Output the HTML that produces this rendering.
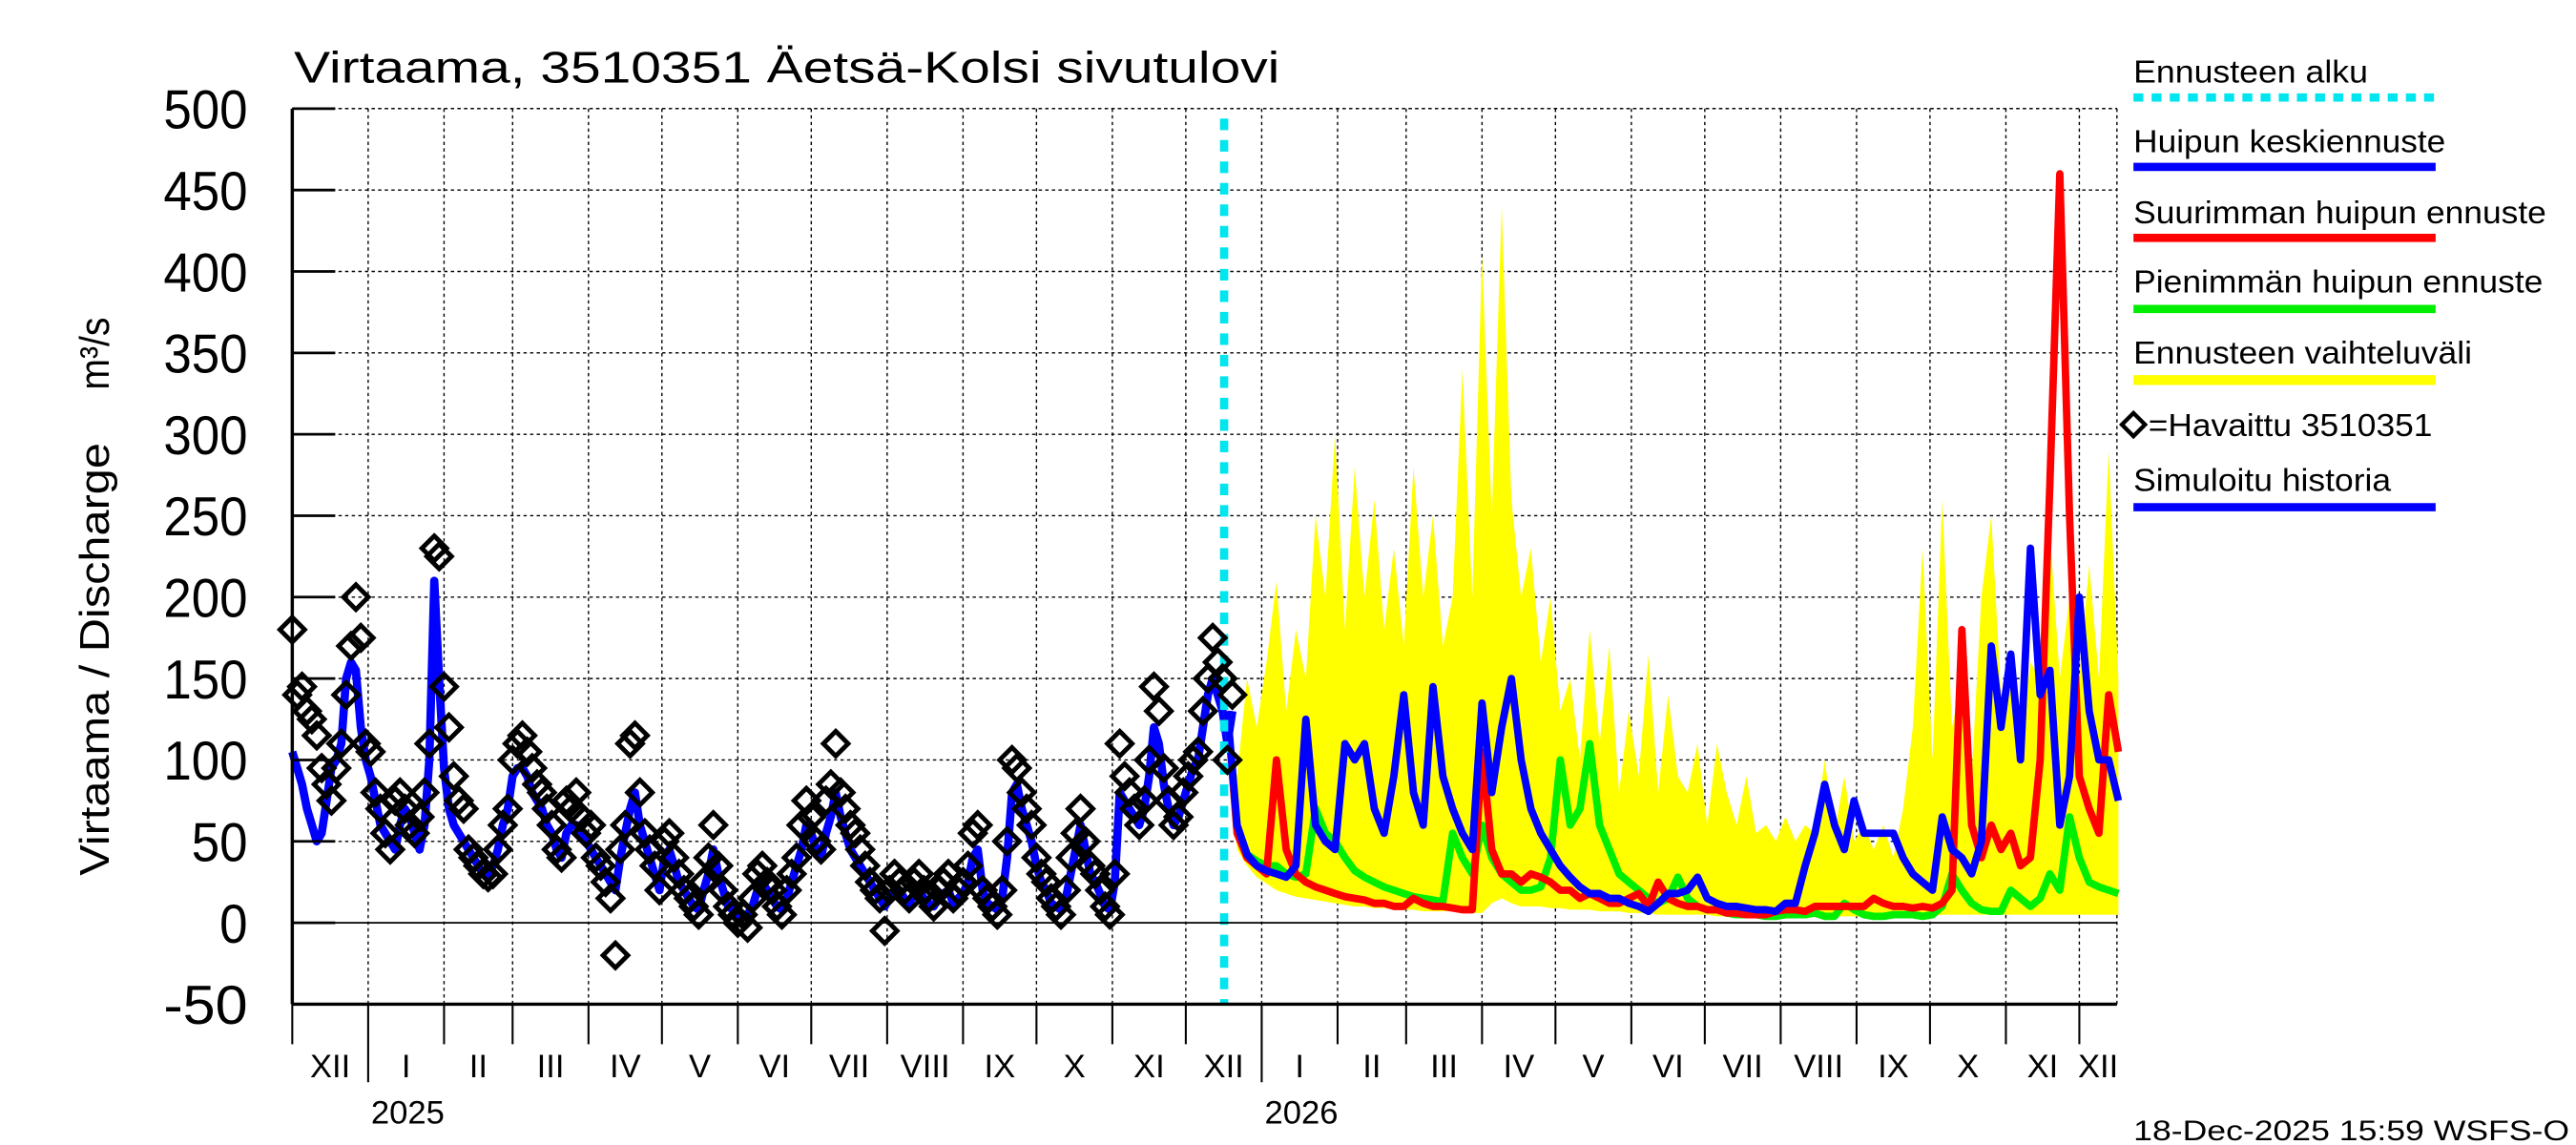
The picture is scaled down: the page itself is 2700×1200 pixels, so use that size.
<!DOCTYPE html>
<html><head><meta charset="utf-8"><style>
html,body{margin:0;padding:0;background:#fff;}
svg{display:block;font-family:"Liberation Sans",sans-serif;}
</style></head><body>
<svg id="chart" xmlns="http://www.w3.org/2000/svg" width="2700" height="1200" viewBox="0 0 1560 693" preserveAspectRatio="none">
<rect x="0" y="0" width="1560" height="693" fill="#fff"/>
<text x="178" y="50" font-size="27" textLength="597" lengthAdjust="spacingAndGlyphs">Virtaama, 3510351 Äetsä-Kolsi sivutulovi</text>
<text transform="translate(66,530) rotate(-90)" font-size="25" textLength="262" lengthAdjust="spacingAndGlyphs">Virtaama / Discharge</text>
<text transform="translate(66,236) rotate(-90)" font-size="25" textLength="44" lengthAdjust="spacingAndGlyphs">m³/s</text>
<g id="grid"></g>
<g id="band"></g>
<g id="series"></g>
<g id="axes"></g>
<g id="legend">
 <text x="1292" y="50" font-size="19" textLength="142" lengthAdjust="spacingAndGlyphs">Ennusteen alku</text>
 <line x1="1292" y1="59" x2="1475" y2="59" stroke="#00e5ee" stroke-width="5" stroke-dasharray="6,5"/>
 <text x="1292" y="92" font-size="19" textLength="189" lengthAdjust="spacingAndGlyphs">Huipun keskiennuste</text>
 <line x1="1292" y1="101" x2="1475" y2="101" stroke="#0000ff" stroke-width="5"/>
 <text x="1292" y="135" font-size="19" textLength="250" lengthAdjust="spacingAndGlyphs">Suurimman huipun ennuste</text>
 <line x1="1292" y1="144" x2="1475" y2="144" stroke="#ff0000" stroke-width="5"/>
 <text x="1292" y="177" font-size="19" textLength="248" lengthAdjust="spacingAndGlyphs">Pienimmän huipun ennuste</text>
 <line x1="1292" y1="187" x2="1475" y2="187" stroke="#00ee00" stroke-width="5"/>
 <text x="1292" y="220" font-size="19" textLength="205" lengthAdjust="spacingAndGlyphs">Ennusteen vaihteluväli</text>
 <line x1="1292" y1="230" x2="1475" y2="230" stroke="#ffff00" stroke-width="6"/>
 <path d="M1292,250 L1299,257 L1292,264 L1285,257 Z" fill="none" stroke="#000" stroke-width="2.5"/>
 <text x="1301" y="264" font-size="19" textLength="172" lengthAdjust="spacingAndGlyphs">=Havaittu 3510351</text>
 <text x="1292" y="297" font-size="19" textLength="156" lengthAdjust="spacingAndGlyphs">Simuloitu historia</text>
 <line x1="1292" y1="307" x2="1475" y2="307" stroke="#0000ff" stroke-width="5"/>
</g>
<text x="1292" y="690" font-size="17" textLength="264" lengthAdjust="spacingAndGlyphs">18-Dec-2025 15:59 WSFS-O</text>
</svg>
<script>
// ---- data ----
const yTicks = [-50,0,50,100,150,200,250,300,350,400,450,500];
const monthLabels = ["XII","I","II","III","IV","V","VI","VII","VIII","IX","X","XI","XII","I","II","III","IV","V","VI","VII","VIII","IX","X","XI","XII"];
const monthStartDays = [0,31,62,90,121,151,182,212,243,274,304,335,365,396,427,455,486,516,547,577,608,639,669,700,730];
const yearLabels = ["2025","2026"];
const yearStartDays = [31,396];
const forecastStartDay = 382;
const obsStartDay = 0, obsStepDays = 2;
const observed = [180,140,145,130,125,115,95,85,75,95,110,140,170,200,175,
110,105,80,70,55,45,75,80,70,60,55,65,80,110,230,
225,145,120,90,75,70,45,40,35,30,28,30,45,60,70,
100,110,115,105,95,85,80,70,60,45,40,75,70,80,65,55,
60,40,35,25,15,-20,45,60,110,115,80,55,45,35,20,
50,55,40,30,20,15,10,5,25,40,60,35,20,10,5,0,
5,-3,15,30,35,25,20,10,5,20,30,40,60,75,65,
50,45,75,85,110,80,70,60,55,45,35,25,20,15,-5,20,
30,25,20,15,25,30,20,15,10,20,25,30,15,20,25,35,
55,60,20,15,10,5,20,50,100,95,80,70,60,40,30,
25,15,10,5,20,40,55,70,50,35,30,20,10,5,30,
110,90,80,70,60,75,100,145,130,95,75,60,65,80,90,
100,105,130,150,175,160,150,100,140];
const simulated = [105,95,85,70,60,50,55,75,95,100,110,150,160,155,120,
100,90,75,60,55,50,45,60,70,65,55,45,60,100,210,
150,95,70,60,55,50,45,40,35,30,30,35,45,60,70,
90,95,95,90,80,75,70,60,55,45,40,55,60,60,55,50,
45,40,35,30,25,20,40,55,70,80,60,50,40,30,20,
40,45,35,25,20,15,10,8,20,30,45,30,20,10,8,5,
5,5,10,20,25,20,15,10,8,15,25,35,45,60,55,
45,40,55,65,80,65,55,45,40,35,30,25,20,15,10,15,
20,20,15,12,18,20,15,12,10,15,18,20,12,15,18,25,
40,45,20,12,10,8,15,40,80,85,70,60,50,35,25,
20,12,10,8,15,30,45,60,45,30,25,18,10,8,25,
80,75,70,65,60,70,90,120,110,85,70,60,65,75,85,
95,100,120,140,150,140,130,110,130];
const fcStepDays = 4;
const fcMean = [130,60,42,35,32,30,28,35,125,60,50,45,110,100,110,70,55,90,140,80,60,145,90,70,55,45,135,80,120,150,100,70,55,45,35,28,22,18,18,15,15,12,10,7,12,18,18,20,28,15,12,10,10,9,8,8,7,12,12,35,55,85,60,45,75,55,55,55,55,40,30,25,20,65,45,40,30,50,170,120,165,100,230,140,155,60,90,200,130,100,100,75];
const fcMax = [130,55,40,35,30,100,45,30,25,22,20,18,16,15,14,12,12,10,10,15,12,10,10,9,8,8,105,45,30,30,25,30,28,25,20,20,15,18,15,12,12,15,18,10,25,15,12,10,10,8,8,6,6,5,5,5,7,8,8,7,10,10,10,10,10,10,15,12,10,10,9,10,9,12,20,180,60,40,60,45,55,35,40,100,270,460,250,90,70,55,140,105];
const fcMin = [130,55,42,38,35,35,30,28,30,70,55,50,40,32,28,25,22,20,18,16,15,14,13,55,40,30,60,40,30,25,20,20,22,40,100,60,70,110,60,45,30,25,20,15,12,15,28,15,10,8,8,6,5,5,5,4,4,5,5,5,6,4,4,12,8,5,4,4,5,5,5,4,5,10,30,20,12,8,7,7,20,15,10,15,30,20,65,40,25,22,20,18];
const fcUpper = [130,90,150,120,160,210,130,180,150,250,200,300,180,280,200,260,180,230,170,280,200,250,170,200,340,200,410,250,440,260,200,230,160,200,130,150,100,180,110,170,80,130,90,165,80,140,90,80,110,60,110,80,60,90,55,60,50,65,50,60,55,100,55,90,50,60,45,60,40,70,120,230,100,260,120,150,90,200,250,140,160,110,160,150,240,150,200,150,220,150,290,150];
const fcLower = [125,45,35,28,24,20,18,16,15,14,13,12,11,10,10,9,9,8,8,8,7,7,7,7,6,6,6,12,15,12,10,10,10,9,9,8,8,8,7,7,7,6,6,6,5,5,5,5,5,5,4,4,4,4,4,4,4,4,4,4,4,4,4,4,4,4,4,4,4,4,4,4,4,5,5,5,5,5,5,5,5,5,5,5,5,5,5,5,5,5,5,5];

// ---- scales ----
const X0 = 177, PXDAY = 1.4825, XR = 1282;
const Y0 = 558.5, PXU = 0.9855;
function xs(d){ return X0 + d*PXDAY; }
function ys(v){ return Y0 - v*PXU; }
const NS = "http://www.w3.org/2000/svg";
function mk(tag, parent, attrs){ const e=document.createElementNS(NS,tag); for(const k in attrs) e.setAttribute(k,attrs[k]); parent.appendChild(e); return e; }

const grid = document.getElementById('grid');
const axes = document.getElementById('axes');
const band = document.getElementById('band');
const series = document.getElementById('series');

yTicks.forEach(v=>{
  const y = ys(v);
  if (v!==0 && v!==-50){
    const g = mk('line', grid, {x1:X0, y1:y, x2:XR, y2:y, stroke:'#000', 'stroke-width':0.8, 'stroke-dasharray':'2,2'});
    
    
  }
  const t = mk('line', axes, {x1:X0, y1:y, x2:X0+26, y2:y, stroke:'#000', 'stroke-width':1.6});
  
  
  const lb = mk('text', axes, {x:150, y:y+12, 'font-size':33, 'text-anchor':'end', textLength: String(v).length*17, lengthAdjust:'spacingAndGlyphs'});
  lb.textContent = v;
  
  
});
const zl = mk('line', axes, {x1:X0, y1:ys(0), x2:XR, y2:ys(0), stroke:'#000', 'stroke-width':1});



monthStartDays.forEach((d,i)=>{
  const x = xs(d);
  if (i>0){
    const g = mk('line', grid, {x1:x, y1:ys(500), x2:x, y2:ys(-50), stroke:'#000', 'stroke-width':0.8, 'stroke-dasharray':'2,2'});
    
    
  }
  const isYear = yearStartDays.indexOf(d)>=0;
  const tk = mk('line', axes, {x1:x, y1:ys(-50), x2:x, y2: isYear?655:632, stroke:'#000', 'stroke-width':1.2});
  
  
  const next = i+1<monthStartDays.length ? monthStartDays[i+1] : (XR-X0)/PXDAY;
  const cx = (x + Math.min(xs(next),XR+8))/2;
  const lb = mk('text', axes, {x:cx, y:652, 'font-size':20, 'text-anchor':'middle'});
  lb.textContent = monthLabels[i];
  
  
});
yearLabels.forEach((s,i)=>{
  const lb = mk('text', axes, {x:xs(yearStartDays[i])+24, y:680, 'font-size':20, 'text-anchor':'middle'});
  lb.textContent = s;
  
  
});
const la = mk('line', axes, {x1:X0, y1:ys(500), x2:X0, y2:ys(-50), stroke:'#000', 'stroke-width':2});


const ba = mk('line', axes, {x1:X0, y1:ys(-50), x2:XR, y2:ys(-50), stroke:'#000', 'stroke-width':2});


const tg = mk('line', grid, {x1:X0, y1:ys(500), x2:XR, y2:ys(500), stroke:'#000', 'stroke-width':0.8, 'stroke-dasharray':'2,2'});


const rg = mk('line', grid, {x1:XR, y1:ys(500), x2:XR, y2:ys(-50), stroke:'#000', 'stroke-width':0.8, 'stroke-dasharray':'2,2'});



function fcX(i){ return xs(forecastStartDay + i*fcStepDays); }
let pts = fcUpper.map((v,i)=>fcX(i).toFixed(1)+','+ys(v).toFixed(1));
for(let i=fcLower.length-1;i>=0;i--) pts.push(fcX(i).toFixed(1)+','+ys(fcLower[i]).toFixed(1));
const poly = mk('polygon', band, {points:pts.join(' '), fill:'#ffff00', stroke:'none'});



function line(arr, xf, color, w, name){
  const d = arr.map((v,i)=>(i?'L':'M')+xf(i).toFixed(1)+','+ys(v).toFixed(1)).join(' ');
  const p = mk('path', series, {d:d, fill:'none', stroke:color, 'stroke-width':w, 'stroke-linejoin':'round'});
  
  
}
function obsX(i){ return xs(obsStartDay + i*obsStepDays); }
line(simulated, obsX, '#0000ff', 5, 'simulated-history-line');
line(fcMin, fcX, '#00ee00', 4.5, 'min-peak-forecast-line');
line(fcMax, fcX, '#ff0000', 4.5, 'max-peak-forecast-line');
line(fcMean, fcX, '#0000ff', 4.5, 'mean-peak-forecast-line');

const fs = mk('line', series, {x1:xs(forecastStartDay)-2, y1:ys(500)+6, x2:xs(forecastStartDay)-2, y2:ys(-50), stroke:'#00e5ee', 'stroke-width':5, 'stroke-dasharray':'7,6'});



observed.forEach((v,i)=>{
  const x=obsX(i), y=ys(v), r=7.5;
  const dm = mk('path', series, {d:`M${x},${y-r} L${x+r},${y} L${x},${y+r} L${x-r},${y} Z`, fill:'none', stroke:'#000', 'stroke-width':2.8});
  
  
});
</script>
</body></html>
